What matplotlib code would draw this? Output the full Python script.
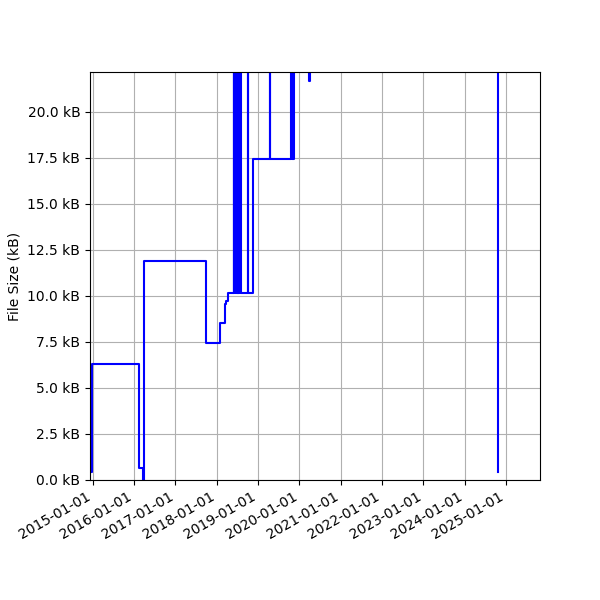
import matplotlib
matplotlib.use("Agg")
import matplotlib.pyplot as plt
import matplotlib.dates as mdates
from matplotlib.ticker import FormatStrFormatter
import pandas as pd

# change dates and file size (kB) after each change (step plot)
dates = [
    "2014-12-21", "2014-12-22", "2016-02-12", "2016-03-18", "2016-03-30",
    "2017-09-30", "2018-02-03", "2018-03-15", "2018-03-20", "2018-04-08",
    "2018-06-03", "2018-06-05", "2018-06-07", "2018-06-09", "2018-06-11",
    "2018-06-13", "2018-06-15", "2018-06-17", "2018-06-19", "2018-06-21",
    "2018-06-23", "2018-06-25", "2018-06-27", "2018-06-29", "2018-07-01",
    "2018-07-03", "2018-07-05", "2018-07-07", "2018-07-09", "2018-07-11",
    "2018-07-13", "2018-07-15", "2018-07-17", "2018-07-19", "2018-07-21",
    "2018-07-23", "2018-07-25", "2018-07-27", "2018-07-29", "2018-08-01",
    "2018-10-01", "2018-10-03", "2018-11-14", "2019-04-17", "2019-04-19",
    "2019-10-22", "2019-10-24", "2019-11-18", "2020-03-30", "2020-04-01",
    "2024-10-18",
]
sizes_kb = [
    0.45, 6.3, 0.63, 0.0, 11.92,
    7.45, 8.52, 9.57, 9.75, 10.18,
    30.0, 10.18, 30.0, 10.18, 30.0,
    10.18, 30.0, 10.18, 30.0, 10.18,
    30.0, 10.18, 30.0, 10.18, 30.0,
    10.18, 30.0, 10.18, 30.0, 10.18,
    30.0, 10.18, 30.0, 10.18, 30.0,
    10.18, 30.0, 10.18, 30.0, 10.18,
    30.0, 10.18, 17.45, 30.0, 17.45,
    30.0, 17.45, 30.0, 21.7, 30.0,
    0.45,
]

x = pd.to_datetime(dates)

fig, ax = plt.subplots(figsize=(6, 6), dpi=100)
ax.plot(x, sizes_kb, color="blue", linewidth=1.5, drawstyle="steps-post")
ax.set_ylim(0, 22.17)
ax.set_xlim(pd.Timestamp("2014-12-08"), pd.Timestamp("2025-10-28"))
ax.yaxis.set_major_formatter(FormatStrFormatter("%.1f kB"))
ax.xaxis.set_major_locator(mdates.YearLocator())
ax.xaxis.set_major_formatter(mdates.DateFormatter("%Y-%m-%d"))
ax.set_ylabel("File Size (kB)")
ax.grid(True)
fig.autofmt_xdate()
fig.subplots_adjust(left=0.15, right=0.9, top=0.88, bottom=0.2)
fig.savefig("out.png", dpi=100)
